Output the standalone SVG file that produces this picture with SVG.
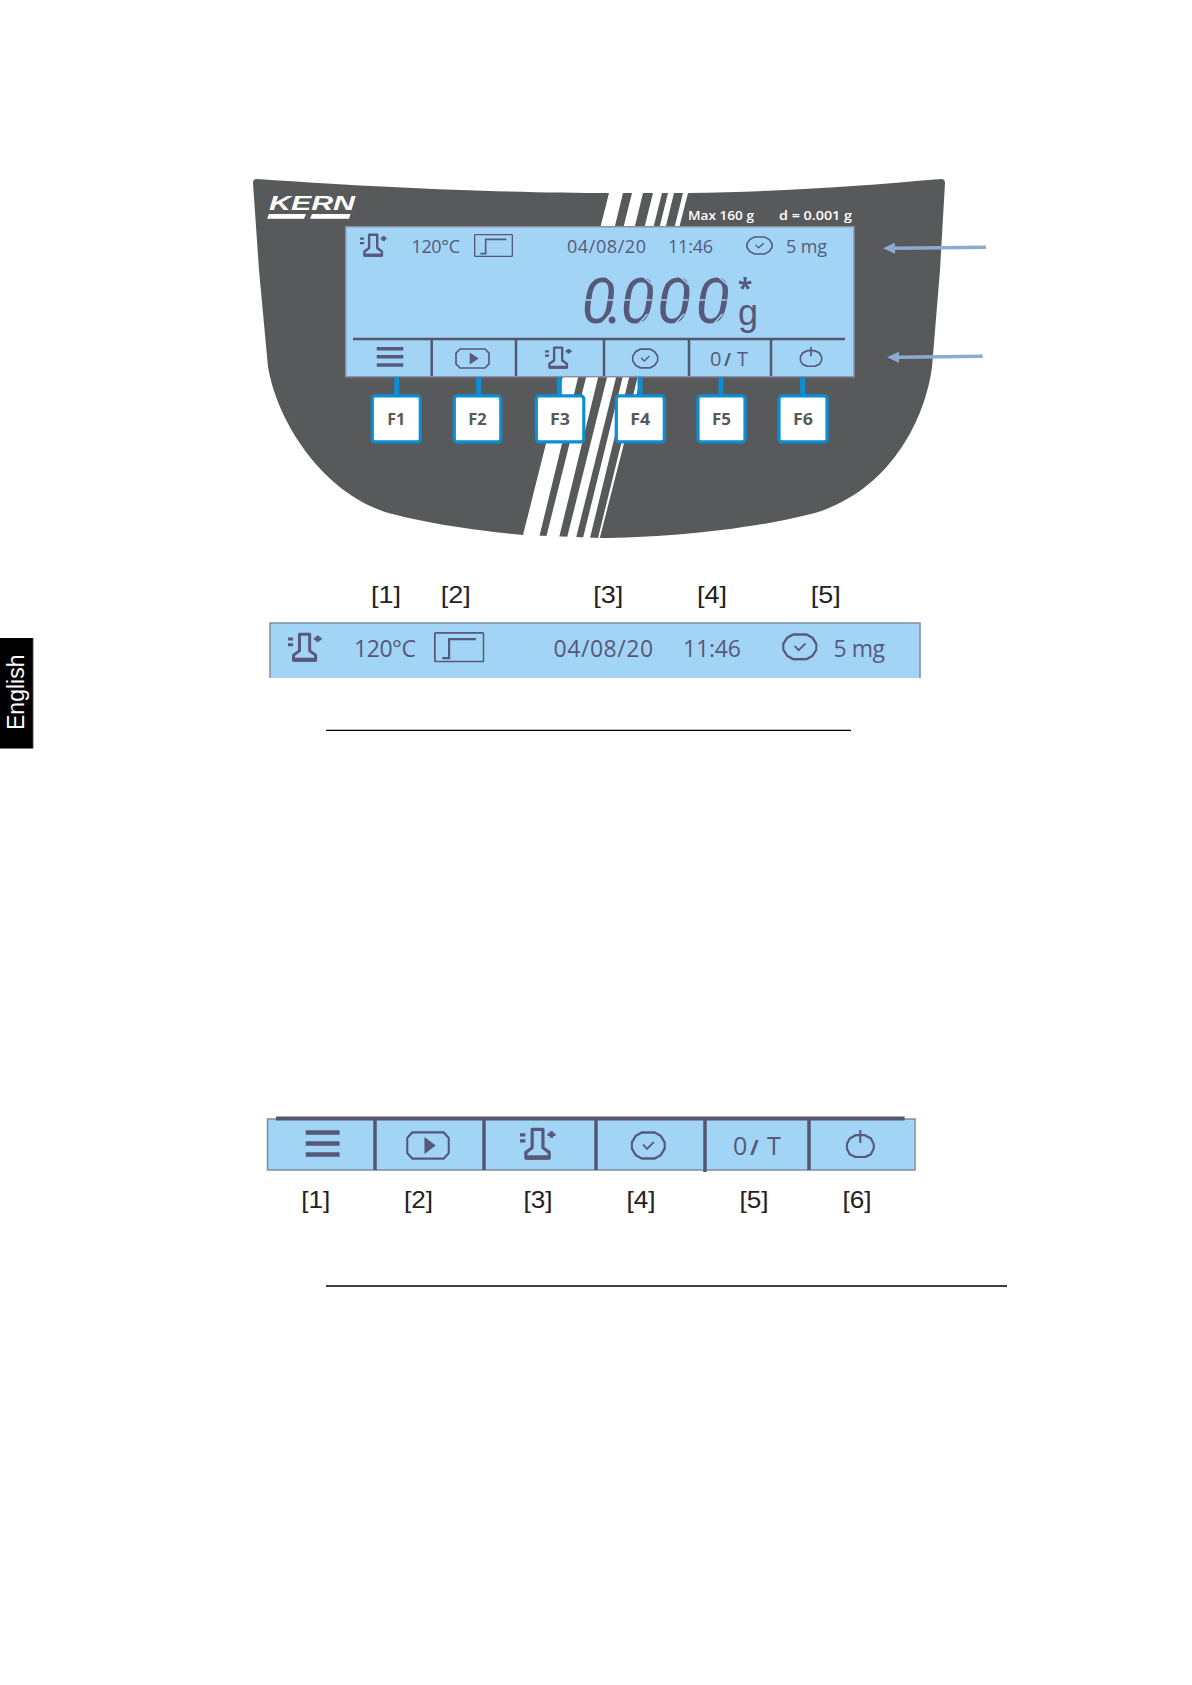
<svg xmlns="http://www.w3.org/2000/svg" xmlns:xlink="http://www.w3.org/1999/xlink" width="1192" height="1685" viewBox="0 0 1192 1685">
<style>
.lcd{font-family:"Open Sans","Liberation Sans",sans-serif;fill:#57587A;font-weight:500}
.key{font-family:"Open Sans","Liberation Sans",sans-serif;font-weight:700;font-size:16.500px;fill:#58595B;text-anchor:middle}
.spec{font-family:"Open Sans","Liberation Sans",sans-serif;font-weight:600;font-size:13px;fill:#fff}
.lab{font-family:"Liberation Sans",Arial,sans-serif;font-size:24px;fill:#222;text-anchor:middle}
.div{stroke:#55566F;stroke-width:2.500}
.wire{fill:#0A8FD4}
.btn{fill:#fff;stroke:#0A8FD4;stroke-width:3.200}
.ico{fill:none;stroke:#57587A;stroke-width:5}
.bar{fill:#A2D5F5}
.arr{stroke:#8CAAD4;stroke-width:3.500;fill:none}
.rule{stroke:#000;stroke-width:1.300}
.gap{stroke:#A2D5F5;stroke-width:1.600;fill:none}
</style>
<defs>
<symbol id="therm" viewBox="0 0 80 70" preserveAspectRatio="none">
<path class="ico" style="stroke-width:7" stroke-linejoin="round" d="M27 44V5H51V44L65 54V66H13V54Z"/>
<path d="M13 60H65V69H13Z" fill="#57587A"/>
<path d="M0 13H12V20H0ZM0 26H12V33H0Z" fill="#57587A"/>
<path d="M66 9H74V13H79V19H74V23H66V19H61V13H66Z" fill="#57587A"/>
</symbol>
<symbol id="clock" viewBox="0 0 82 58" preserveAspectRatio="none">
<path class="ico" d="M26 3H56L70 10L79 23V35L70 48L56 55H26L12 48L3 35V23L12 10Z"/>
<path class="ico" style="stroke-width:4" d="M29 27L38 36L54 22"/>
</symbol>
<symbol id="play" viewBox="0 0 105 62" preserveAspectRatio="none">
<path class="ico" d="M15 3H90L102 15V47L90 59H15L3 47V15Z"/>
<path d="M44 13L71 31L44 49Z" fill="#57587A"/>
</symbol>
<symbol id="power" viewBox="0 0 70 60" preserveAspectRatio="none">
<path class="ico" d="M24 11H46L60 18L67 30V40L60 52L46 58H24L10 52L3 40V30L10 18Z"/>
<path class="ico" d="M35 0V28"/>
</symbol>
<symbol id="step" viewBox="0 0 117 68" preserveAspectRatio="none">
<rect class="ico" x="2" y="2" width="113" height="64" rx="2" style="stroke-width:4"/>
<path class="ico" d="M19 58H35V16H97"/>
</symbol>
<g id="seggaps">
<path class="gap" d="M-2 23H9M19 23H30M3 9L11 0M21 -1L31 8M-3 39L6 47M17 47L26 37"/>
</g>
<marker id="head" markerWidth="12" markerHeight="11" refX="0" refY="5.500" orient="auto" markerUnits="userSpaceOnUse"><path d="M0 0L12 5.500L0 11Z" fill="#8CAAD4"/></marker>
</defs>
<rect width="1192" height="1685" fill="#fff"/>

<g id="panel">
<path fill="#58595B" d="M253 183Q253 179 257 179C400 189 520 193 610 193L688 193C780 192 860 186 941 179Q945 179 945 183L940 270L932 367C925 420 890 490 815 513C750 530 660 538 600 538L523 535C470 530 420 522 385 512C320 490 277 420 268 367L259 270Z"/>
<path fill="#fff" d="M609 193H688L598 545H520.500Z"/>
<path fill="#58595B" d="M623 193H632L546 538H539ZM643 193H653L567 538H559ZM662 193H668L583 538H576ZM674 193H683L598 538H590Z"/>
<path fill="#fff" d="M515 535L523 535L600 538L600 545H515Z"/>
</g>

<g id="logo">
<text x="269" y="210" font-family="Liberation Sans" font-weight="700" font-style="italic" font-size="21" fill="#fff" textLength="86" lengthAdjust="spacingAndGlyphs">KERN</text>
<path fill="#fff" d="M269 214H306L304 218.700H267ZM312 214H350.500L349 218.700H310Z"/>
</g>
<g id="specs">
<text class="spec" x="688" y="220" textLength="66" lengthAdjust="spacingAndGlyphs">Max 160 g</text>
<text class="spec" x="779" y="220" textLength="73" lengthAdjust="spacingAndGlyphs">d = 0.001 g</text>
</g>

<g id="display">
<rect class="bar" x="345.700" y="226.700" width="508.300" height="150" stroke="#8A8FA8" stroke-width="1.500"/>
<use href="#therm" x="360" y="233" width="27" height="24"/>
<text class="lcd" x="411.500" y="253" font-size="18" textLength="48.500">120°C</text>
<use href="#step" x="474" y="234" width="39" height="23"/>
<text class="lcd" x="567" y="253" font-size="18" textLength="79">04/08/20</text>
<text class="lcd" x="668" y="253" font-size="18" textLength="45">11:46</text>
<use href="#clock" x="746" y="236" width="27" height="19"/>
<text class="lcd" x="786" y="253" font-size="18" textLength="41">5 mg</text>
<text id="reading" x="581.500 607 620.500 657 695.500" y="323" font-family="Roboto,sans-serif" font-weight="400" font-style="italic" font-size="63" fill="#57587A">0.000</text>
<use href="#seggaps" x="584.500" y="277"/>
<use href="#seggaps" x="621.500" y="277"/>
<use href="#seggaps" x="658" y="277"/>
<use href="#seggaps" x="696.500" y="277"/>
<text x="738" y="325" font-family="Liberation Sans,Arial,sans-serif" font-size="36" fill="#57587A">g</text>
<text class="lcd" x="738" y="298" font-size="26" style="font-weight:700">*</text>
<path class="div" d="M353 339H845M431.700 339V376M516 339V376M604 339V376M689 339V376M771 339V376"/>
<path d="M376.700 347H403.300V350.500H376.700ZM376.700 355H403.300V358.500H376.700ZM376.700 363.200H403.300V366.700H376.700Z" fill="#57587A"/>
<use href="#play" x="455" y="348" width="35" height="21"/>
<use href="#therm" x="545" y="346" width="27" height="23"/>
<use href="#clock" x="631.700" y="348" width="27" height="21"/>
<text class="lcd" y="366" font-size="20"><tspan x="710">0</tspan><tspan x="724" font-size="17" style="font-weight:700">/</tspan><tspan x="737">T</tspan></text>
<use href="#power" x="799.300" y="347" width="23.400" height="20"/>
</g>

<g id="connectors">
<rect class="wire" x="394.200" y="377" width="5" height="18"/>
<rect class="wire" x="476.200" y="377" width="5" height="18"/>
<rect class="wire" x="556.800" y="377" width="5" height="18"/>
<rect class="wire" x="637.500" y="377" width="5" height="18"/>
<rect class="wire" x="718.500" y="377" width="5" height="18"/>
<rect class="wire" x="800.200" y="377" width="5" height="18"/>
<path class="arr" marker-end="url(#head)" d="M986 247.300L895 248.200"/>
<path class="arr" marker-end="url(#head)" d="M982.700 356.300L899 357.200"/>
</g>

<g id="F1"><rect class="btn" x="372.300" y="395.900" width="48" height="46" rx="3"/><text class="key" x="396.300" y="425" textLength="18" lengthAdjust="spacingAndGlyphs">F1</text></g>
<g id="F2"><rect class="btn" x="454.300" y="395.900" width="46.500" height="46" rx="3"/><text class="key" x="477.500" y="425" textLength="18.500" lengthAdjust="spacingAndGlyphs">F2</text></g>
<g id="F3"><rect class="btn" x="536.300" y="395.900" width="47.500" height="46" rx="3"/><text class="key" x="560" y="425" textLength="20" lengthAdjust="spacingAndGlyphs">F3</text></g>
<g id="F4"><rect class="btn" x="616.300" y="395.900" width="48" height="46" rx="3"/><text class="key" x="640.300" y="425" textLength="20" lengthAdjust="spacingAndGlyphs">F4</text></g>
<g id="F5"><rect class="btn" x="698" y="395.900" width="47" height="46" rx="3"/><text class="key" x="721.500" y="425" textLength="19" lengthAdjust="spacingAndGlyphs">F5</text></g>
<g id="F6"><rect class="btn" x="779" y="395.900" width="48" height="46" rx="3"/><text class="key" x="803" y="425" textLength="20" lengthAdjust="spacingAndGlyphs">F6</text></g>

<g id="status-bar">
<text class="lab" x="386" y="603" textLength="30" lengthAdjust="spacingAndGlyphs">[1]</text>
<text class="lab" x="455.700" y="603" textLength="30" lengthAdjust="spacingAndGlyphs">[2]</text>
<text class="lab" x="608.300" y="603" textLength="30" lengthAdjust="spacingAndGlyphs">[3]</text>
<text class="lab" x="712" y="603" textLength="30" lengthAdjust="spacingAndGlyphs">[4]</text>
<text class="lab" x="825.800" y="603" textLength="30" lengthAdjust="spacingAndGlyphs">[5]</text>
<rect class="bar" x="270" y="623" width="650" height="55"/>
<path d="M270 678V623H920V678" fill="none" stroke="#7F8AA5" stroke-width="1.500"/>
<use href="#therm" x="288" y="632" width="34" height="30"/>
<text class="lcd" x="354" y="657.300" font-size="23" textLength="62">120°C</text>
<use href="#step" x="434" y="632" width="50.500" height="30.500"/>
<text class="lcd" x="553.600" y="657.300" font-size="23" textLength="99.500">04/08/20</text>
<text class="lcd" x="683" y="657.300" font-size="23" textLength="58">11:46</text>
<use href="#clock" x="782" y="633" width="35.700" height="27.700"/>
<text class="lcd" x="833.500" y="657.300" font-size="23" textLength="51.500">5 mg</text>
</g>
<line class="rule" x1="326" y1="730.300" x2="851" y2="730.300"/>

<g id="softkey-bar">
<rect class="bar" x="267.500" y="1119" width="647.500" height="51" stroke="#7F8AA5" stroke-width="1.500"/>
<path d="M276 1118.500H904.600" stroke="#55566F" stroke-width="4"/>
<path class="div" style="stroke-width:3.500" d="M375 1118V1170M484 1118V1170M596 1118V1170M705 1118V1172M809 1118V1170"/>
<path d="M305.700 1130.300H339.600V1134.800H305.700ZM305.700 1141.300H339.600V1145.800H305.700ZM305.700 1152.300H339.600V1156.800H305.700Z" fill="#57587A"/>
<use href="#play" x="406" y="1131" width="44" height="29"/>
<use href="#therm" x="520" y="1127" width="36" height="33"/>
<use href="#clock" x="630.500" y="1131" width="35.500" height="29"/>
<text class="lcd" y="1155" font-size="25"><tspan x="733">0</tspan><tspan x="750" font-size="21" style="font-weight:700">/</tspan><tspan x="767">T</tspan></text>
<use href="#power" x="845.600" y="1130" width="29.400" height="28"/>
<text class="lab" x="315.700" y="1208" textLength="29" lengthAdjust="spacingAndGlyphs">[1]</text>
<text class="lab" x="418.500" y="1208" textLength="29" lengthAdjust="spacingAndGlyphs">[2]</text>
<text class="lab" x="538" y="1208" textLength="29" lengthAdjust="spacingAndGlyphs">[3]</text>
<text class="lab" x="641" y="1208" textLength="29" lengthAdjust="spacingAndGlyphs">[4]</text>
<text class="lab" x="754" y="1208" textLength="29" lengthAdjust="spacingAndGlyphs">[5]</text>
<text class="lab" x="857" y="1208" textLength="29" lengthAdjust="spacingAndGlyphs">[6]</text>
</g>
<line class="rule" x1="326" y1="1286" x2="1007" y2="1286"/>

<g id="language-tab">
<rect x="0" y="638" width="33" height="110.500" fill="#000"/>
<line x1="33.300" y1="638" x2="33.300" y2="748.500" stroke="#999" stroke-width="1"/>
<text transform="translate(24 730) rotate(-90)" font-family="Liberation Sans,Arial,sans-serif" font-size="23" fill="#fff">English</text>
</g>
</svg>
